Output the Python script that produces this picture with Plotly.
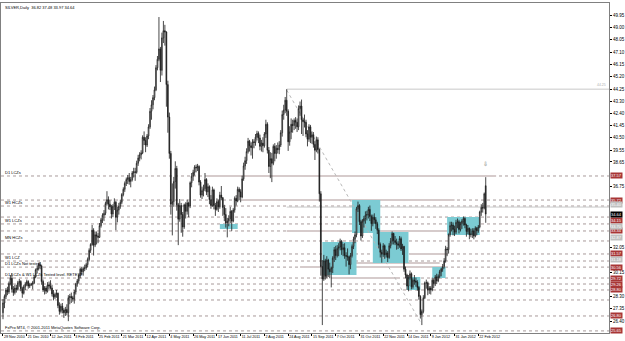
import plotly.graph_objects as go

# ---- daily OHLC, SILVER (29 Nov 2010 .. 29 Feb 2012), one row per week ----
opens = [
    27.05, 27.80, 28.30, 28.80, 28.65,
    29.30, 29.70, 28.85, 28.60, 28.95,
    28.85, 29.35, 29.45, 28.90, 28.55,
    29.05, 29.25, 29.45, 29.10, 29.20,
    29.25, 29.35, 29.80, 30.35, 30.45,
    30.75, 30.65, 29.45, 28.80, 28.95,
    28.70, 29.20, 29.10, 28.95, 28.50,
    28.25, 28.45, 28.55, 27.60, 27.15,
    27.55, 27.25, 27.05, 27.30, 27.05,
    28.20, 28.30, 28.20, 28.10, 28.65,
    29.25, 29.50, 29.90, 30.40, 30.20,
    30.45, 30.50, 30.75, 31.15, 31.85,
    32.30, 33.40, 32.25, 33.05, 32.95,
    32.85, 33.75, 34.20, 34.55, 34.70,
    35.45, 35.75, 35.40, 35.20, 34.65,
    35.25, 35.55, 34.40, 34.95, 35.25,
    35.55, 36.15, 36.55, 37.00, 37.30,
    37.45, 37.15, 37.30, 37.80, 37.90,
    37.85, 38.55, 38.95, 39.20, 39.35,
    40.55, 40.30, 39.95, 40.65, 41.35,
    42.55, 43.05, 43.60, 44.20, 45.90,
    46.55, 47.35, 45.70, 48.20, 48.75,
    48.65, 44.60, 42.10, 39.30, 35.40,
    35.60, 37.15, 38.15, 35.35, 34.25,
    35.30, 34.60, 33.65, 35.35, 34.85,
    35.50, 35.25, 37.05, 37.55, 37.85,
    38.25, 38.20, 38.30, 37.10, 36.10,
    36.45, 36.60, 37.30, 36.35, 36.75,
    35.75, 35.30, 36.50, 35.30, 35.00,
    35.60, 35.20, 36.10, 35.90, 35.15,
    34.60, 33.95, 34.10, 34.30, 34.85,
    34.10, 34.95, 35.85, 35.65, 36.55,
    36.35, 35.95, 37.35, 38.35, 38.75,
    39.45, 40.25, 39.90, 39.75, 40.20,
    40.15, 40.55, 40.85, 40.50, 39.85,
    40.10, 39.90, 40.80, 41.55, 39.55,
    38.30, 38.90, 38.55, 39.85, 39.30,
    39.70, 39.60, 39.95, 40.90, 42.30,
    42.65, 43.40, 42.55, 40.20, 40.95,
    41.55, 41.45, 41.85, 41.70, 41.35,
    42.75, 42.95, 41.90, 41.75, 41.70,
    40.80, 40.40, 41.35, 40.55, 40.75,
    40.00, 39.55, 40.35, 39.60, 36.20,
    30.60, 29.65, 31.05, 29.85, 31.10,
    30.40, 30.20, 30.50, 31.25, 31.90,
    31.45, 32.00, 32.10, 32.55, 31.90,
    32.05, 31.45, 31.40, 31.35, 30.75,
    31.45, 32.15, 32.70, 33.05, 35.05,
    35.30, 34.05, 32.95, 34.10, 34.30,
    34.55, 34.60, 35.00, 34.45, 33.90,
    34.40, 34.20, 33.90, 33.40, 32.30,
    31.70, 31.55, 32.20, 31.50, 31.65,
    31.30, 32.20, 32.55, 33.15, 32.60,
    32.45, 32.35, 32.25, 32.75, 31.95,
    32.15, 30.40, 29.95, 29.10, 29.75,
    30.05, 29.05, 29.55, 29.50, 29.40,
    29.00, 28.30, 26.90, 27.15,
    28.20, 29.35, 29.35, 28.80,
    28.95, 28.80, 29.55, 29.30, 29.80,
    29.50, 29.85, 30.20, 30.40, 30.60,
    31.05, 31.95, 31.90, 33.05, 33.75,
    33.80, 33.45, 33.25, 34.00, 34.05,
    33.45, 33.90, 34.10, 34.30, 33.80,
    33.30, 33.55, 33.05, 33.10, 33.35,
    32.95, 33.55, 33.35, 33.65, 34.80,
    35.15, 35.10, 36.82,
]
highs = [
    28.10, 28.45, 28.95, 29.05, 29.45,
    29.95, 30.10, 29.10, 29.20, 29.20,
    29.50, 29.65, 29.55, 29.05, 29.20,
    29.40, 29.60, 29.55, 29.35, 29.35,
    29.50, 29.95, 30.45, 30.70, 30.90,
    30.95, 30.75, 29.60, 29.10, 29.10,
    29.40, 29.45, 29.55, 29.20, 28.80,
    28.60, 28.80, 28.60, 27.85, 27.75,
    27.80, 27.40, 27.50, 27.70, 28.40,
    28.50, 28.60, 28.35, 28.80, 29.35,
    29.65, 30.00, 30.50, 30.55, 30.60,
    30.75, 30.90, 31.30, 32.00, 32.40,
    33.80, 33.55, 33.30, 33.30, 33.20,
    33.95, 34.35, 34.70, 34.95, 35.60,
    36.40, 36.00, 35.70, 35.35, 35.40,
    35.85, 35.65, 35.20, 35.50, 35.75,
    36.25, 36.70, 37.15, 37.45, 37.65,
    37.80, 37.50, 37.95, 38.20, 38.20,
    38.75, 39.20, 39.40, 39.55, 40.70,
    41.00, 40.55, 40.80, 41.55, 42.80,
    43.40, 43.80, 44.45, 46.10, 46.80,
    49.80, 47.50, 48.60, 49.50, 49.20,
    48.70, 44.90, 42.45, 39.50, 37.00,
    37.50, 38.70, 38.35, 35.50, 35.80,
    35.50, 34.80, 35.45, 35.55, 35.75,
    35.60, 37.15, 37.80, 38.05, 38.40,
    38.45, 38.50, 38.40, 37.25, 36.75,
    36.90, 37.80, 37.40, 37.00, 36.85,
    36.10, 36.75, 36.60, 35.50, 35.85,
    35.75, 36.35, 36.80, 35.95, 35.35,
    35.10, 34.35, 34.55, 35.20, 34.95,
    35.10, 36.00, 36.10, 36.75, 36.70,
    36.55, 37.60, 38.60, 39.05, 39.70,
    40.50, 40.35, 40.15, 40.40, 40.40,
    40.80, 41.05, 41.00, 40.75, 40.35,
    40.55, 40.95, 41.90, 41.70, 39.80,
    39.40, 39.35, 40.00, 40.10, 39.95,
    40.15, 40.25, 41.10, 42.60, 43.05,
    43.65, 44.25, 42.70, 41.40, 42.00,
    41.90, 42.00, 42.10, 42.00, 43.00,
    43.30, 43.45, 42.05, 42.30, 41.90,
    41.10, 41.55, 41.50, 41.00, 40.95,
    40.25, 40.60, 40.55, 39.70, 36.40,
    31.10, 31.50, 31.20, 31.40, 31.20,
    30.90, 30.60, 31.40, 32.10, 32.20,
    32.25, 32.40, 32.75, 32.65, 32.35,
    32.40, 31.70, 32.00, 31.45, 31.65,
    32.30, 32.90, 33.30, 35.20, 35.60,
    35.40, 34.20, 34.25, 34.50, 34.85,
    34.90, 35.20, 35.30, 34.60, 34.60,
    34.70, 34.40, 34.05, 33.55, 32.45,
    31.90, 32.40, 32.30, 31.90, 31.80,
    32.40, 32.80, 33.30, 33.20, 32.95,
    32.75, 32.55, 32.95, 32.90, 32.35,
    32.20, 30.60, 30.05, 29.95, 30.30,
    30.15, 29.70, 29.95, 29.75, 29.55,
    29.10, 28.40, 27.30, 28.40,
    29.45, 29.60, 29.45, 29.10,
    29.10, 29.75, 29.70, 29.95, 30.05,
    30.00, 30.35, 30.50, 30.80, 31.25,
    32.20, 32.10, 33.15, 34.05, 34.05,
    34.00, 33.75, 34.20, 34.30, 34.20,
    34.05, 34.25, 34.45, 34.40, 33.90,
    33.80, 33.60, 33.50, 33.55, 33.55,
    33.70, 33.65, 33.80, 34.90, 35.40,
    35.50, 36.30, 37.48,
]
lows = [
    26.55, 27.40, 28.10, 28.40, 28.50,
    29.15, 28.60, 28.35, 28.45, 28.60,
    28.75, 29.05, 28.70, 28.20, 28.45,
    28.80, 29.10, 28.90, 28.95, 29.10,
    28.85, 29.25, 29.70, 30.10, 30.30,
    30.40, 29.20, 28.65, 28.45, 28.50,
    28.60, 28.85, 28.85, 28.30, 28.00,
    28.10, 28.20, 27.40, 26.90, 27.00,
    27.00, 26.65, 26.80, 26.85, 26.40,
    27.70, 27.80, 27.90, 27.75, 28.45,
    29.05, 29.30, 29.70, 29.95, 29.90,
    30.25, 30.35, 30.55, 31.00, 31.65,
    32.20, 31.45, 32.10, 32.30, 32.40,
    32.80, 33.60, 33.95, 34.10, 34.55,
    35.30, 35.00, 34.95, 34.30, 34.40,
    34.95, 33.40, 34.00, 34.60, 35.05,
    35.40, 36.00, 36.35, 36.80, 36.95,
    36.90, 36.70, 37.15, 37.45, 37.20,
    37.75, 38.35, 38.70, 38.85, 39.25,
    39.95, 39.40, 39.80, 40.40, 41.20,
    41.90, 42.70, 43.40, 44.10, 45.70,
    46.40, 44.80, 45.30, 47.80, 47.60,
    42.90, 40.90, 38.90, 34.60, 33.00,
    35.20, 36.60, 34.90, 32.25, 34.05,
    33.20, 32.90, 33.50, 34.30, 34.60,
    34.40, 35.10, 36.70, 37.20, 37.60,
    37.85, 37.95, 36.85, 35.90, 35.80,
    36.00, 36.40, 36.10, 35.95, 35.40,
    35.05, 35.20, 35.00, 34.50, 34.90,
    34.80, 35.05, 35.70, 34.50, 34.10,
    33.60, 32.85, 33.70, 33.95, 33.35,
    34.00, 34.75, 35.30, 35.55, 35.70,
    35.55, 35.85, 37.20, 38.05, 38.50,
    39.30, 39.45, 39.15, 38.90, 39.70,
    39.90, 40.30, 40.10, 39.55, 39.45,
    39.40, 39.75, 40.50, 39.30, 37.80,
    37.40, 37.10, 38.40, 38.70, 38.90,
    39.30, 39.25, 39.80, 40.60, 41.90,
    42.40, 42.20, 39.50, 39.90, 40.40,
    40.90, 41.10, 41.20, 40.95, 41.10,
    42.20, 40.80, 40.65, 41.30, 40.55,
    39.85, 40.20, 40.10, 40.05, 39.75,
    38.80, 39.40, 39.30, 35.60, 29.90,
    26.10, 29.50, 29.60, 29.70, 29.80,
    29.70, 29.00, 30.10, 30.95, 31.10,
    31.30, 31.40, 31.85, 31.50, 31.40,
    31.20, 30.60, 31.05, 30.00, 30.40,
    31.30, 31.95, 32.40, 32.85, 34.80,
    33.80, 32.60, 32.80, 33.60, 33.90,
    34.15, 34.30, 34.10, 33.35, 33.70,
    33.90, 33.50, 33.10, 32.00, 31.30,
    30.90, 31.35, 31.20, 31.30, 30.95,
    31.20, 32.00, 32.30, 32.30, 32.25,
    31.90, 31.95, 32.05, 31.80, 31.50,
    30.20, 29.70, 28.80, 28.70, 29.60,
    28.85, 28.90, 29.20, 29.05, 28.75,
    28.05, 26.60, 26.10, 27.00,
    28.10, 28.90, 28.40, 28.50,
    28.45, 28.70, 28.95, 29.10, 29.25,
    29.40, 29.70, 29.85, 30.20, 30.45,
    30.90, 31.40, 31.60, 32.90, 33.30,
    33.00, 32.95, 33.10, 33.55, 33.15,
    33.30, 33.50, 33.75, 33.55, 32.90,
    33.10, 32.70, 32.85, 32.80, 32.70,
    32.85, 33.00, 33.20, 33.55, 34.50,
    34.75, 35.00, 33.97,
]
closes = [
    27.80, 28.30, 28.80, 28.65, 29.30,
    29.70, 28.85, 28.60, 28.95, 28.85,
    29.35, 29.45, 28.90, 28.55, 29.05,
    29.25, 29.45, 29.10, 29.20, 29.25,
    29.35, 29.80, 30.35, 30.45, 30.75,
    30.65, 29.45, 28.80, 28.95, 28.70,
    29.20, 29.10, 28.95, 28.50, 28.25,
    28.45, 28.55, 27.60, 27.15, 27.55,
    27.25, 27.05, 27.30, 27.05, 28.20,
    28.30, 28.20, 28.10, 28.65, 29.25,
    29.50, 29.90, 30.40, 30.20, 30.45,
    30.50, 30.75, 31.15, 31.85, 32.30,
    33.40, 32.25, 33.05, 32.95, 32.85,
    33.75, 34.20, 34.55, 34.70, 35.45,
    35.75, 35.40, 35.20, 34.65, 35.25,
    35.55, 34.40, 34.95, 35.25, 35.55,
    36.15, 36.55, 37.00, 37.30, 37.45,
    37.15, 37.30, 37.80, 37.90, 37.85,
    38.55, 38.95, 39.20, 39.35, 40.55,
    40.30, 39.95, 40.65, 41.35, 42.55,
    43.05, 43.60, 44.20, 45.90, 46.55,
    47.35, 45.70, 48.20, 48.75, 48.65,
    44.60, 42.10, 39.30, 35.40, 35.60,
    37.15, 38.15, 35.35, 34.25, 35.30,
    34.60, 33.65, 35.35, 34.85, 35.50,
    35.25, 37.05, 37.55, 37.85, 38.25,
    38.20, 38.30, 37.10, 36.10, 36.45,
    36.60, 37.30, 36.35, 36.75, 35.75,
    35.30, 36.50, 35.30, 35.00, 35.60,
    35.20, 36.10, 35.90, 35.15, 34.60,
    33.95, 34.10, 34.30, 34.85, 34.10,
    34.95, 35.85, 35.65, 36.55, 36.35,
    35.95, 37.35, 38.35, 38.75, 39.45,
    40.25, 39.90, 39.75, 40.20, 40.15,
    40.55, 40.85, 40.50, 39.85, 40.10,
    39.90, 40.80, 41.55, 39.55, 38.30,
    38.90, 38.55, 39.85, 39.30, 39.70,
    39.60, 39.95, 40.90, 42.30, 42.65,
    43.40, 42.55, 40.20, 40.95, 41.55,
    41.45, 41.85, 41.70, 41.35, 42.75,
    42.95, 41.90, 41.75, 41.70, 40.80,
    40.40, 41.35, 40.55, 40.75, 40.00,
    39.55, 40.35, 39.60, 36.20, 30.60,
    29.65, 31.05, 29.85, 31.10, 30.40,
    30.20, 30.50, 31.25, 31.90, 31.45,
    32.00, 32.10, 32.55, 31.90, 32.05,
    31.45, 31.40, 31.35, 30.75, 31.45,
    32.15, 32.70, 33.05, 35.05, 35.30,
    34.05, 32.95, 34.10, 34.30, 34.55,
    34.60, 35.00, 34.45, 33.90, 34.40,
    34.20, 33.90, 33.40, 32.30, 31.70,
    31.55, 32.20, 31.50, 31.65, 31.30,
    32.20, 32.55, 33.15, 32.60, 32.45,
    32.35, 32.25, 32.75, 31.95, 32.15,
    30.40, 29.95, 29.10, 29.75, 30.05,
    29.05, 29.55, 29.50, 29.40, 29.00,
    28.30, 26.90, 27.15, 28.20,
    29.35, 29.35, 28.80, 28.95,
    28.80, 29.55, 29.30, 29.80, 29.50,
    29.85, 30.20, 30.40, 30.60, 31.05,
    31.95, 31.90, 33.05, 33.75, 33.80,
    33.45, 33.25, 34.00, 34.05, 33.45,
    33.90, 34.10, 34.30, 33.80, 33.30,
    33.55, 33.05, 33.10, 33.35, 32.95,
    33.55, 33.35, 33.65, 34.80, 35.15,
    35.10, 36.20, 34.64,
]

date_labels = ["29 Nov 2010", "21 Dec 2010", "12 Jan 2011", "3 Feb 2011", "25 Feb 2011",
               "21 Mar 2011", "12 Apr 2011", "4 May 2011", "26 May 2011", "17 Jun 2011",
               "11 Jul 2011", "2 Aug 2011", "24 Aug 2011", "15 Sep 2011", "7 Oct 2011",
               "31 Oct 2011", "22 Nov 2011", "14 Dec 2011", "9 Jan 2012", "31 Jan 2012",
               "22 Feb 2012"]
date_label_bars = [0, 16, 32, 48, 64, 80, 96, 112, 128, 144, 160, 176, 192, 208, 224,
                   240, 256, 272, 288, 304, 320]

# price scale labels left visible (others are hidden under the line labels)
price_ticks = [50.90, 49.95, 49.00, 48.05, 47.10, 46.15, 45.20, 44.25, 43.30, 42.40,
               41.45, 40.50, 39.55, 38.65, 36.75, 32.05, 30.15, 28.30, 27.35, 26.40]

# horizontal dotted levels (full width)
dotted_levels = [37.57, 35.72, 35.26, 34.41, 33.88, 33.34, 32.57, 31.57, 31.03, 30.56,
                 29.72, 29.26, 28.80, 28.03, 26.80, 25.65]
# grey zone lines: (start bar, end bar, price)
band_start = [138, 162, 191, 274, 237, 200, 222]
band_end = [332, 304, 301, 299, 294, 296, 267]
band_price = [37.57, 35.72, 33.34, 31.57, 30.87, 30.56, 29.72]
# thin solid lines from the August top
solid_start = [191, 191]
solid_price = [44.25, 35.18]
# cyan zones: bar from/to, price low/high
zone_x0 = [146, 215, 235, 249, 272, 289, 299]
zone_x1 = [158, 238, 254, 273, 281, 298, 321]
zone_lo = [33.49, 29.95, 33.19, 30.88, 28.80, 29.72, 33.03]
zone_hi = [33.88, 32.49, 35.72, 33.26, 29.80, 30.57, 34.41]
# trend line
trend_x = [191, 281]
trend_y = [44.18, 26.34]
# level notes on the left
note_text = ["D1 LCZs", "W1 HCZs", "W1 LCZs", "MN HCZs", "W1 LCZ", "D1 LCZs Not tested",
             "D1 LCZs & W1 LCZs Tested level. RETEST"]
note_price = [37.57, 35.26, 33.88, 32.57, 31.03, 30.56, 29.72]
# price labels on the right axis
red_labels = [37.57, 35.72, 34.15, 33.34, 31.57, 30.56, 29.72, 29.26, 28.80, 26.80, 25.65]
grey_labels = [35.40, 33.70, 32.87, 31.18]
bid_price = 34.64
top_line_note = 44.25

bars = list(range(len(closes)))

fig = go.Figure(go.Candlestick(
    x=bars, open=opens, high=highs, low=lows, close=closes,
    increasing=dict(line=dict(color="#1a1a1a", width=0.8), fillcolor="#ffffff"),
    decreasing=dict(line=dict(color="#1a1a1a", width=0.8), fillcolor="#1a1a1a"),
    whiskerwidth=0, hoverinfo="skip",
))

XR = [-1.34, 408.0]
YR = [25.49, 50.88]
dot_col = "#a89a9a"
for p in dotted_levels:
    fig.add_shape(type="line", xref="x", yref="y", x0=XR[0], x1=XR[1], y0=p, y1=p,
                  line=dict(color=dot_col, width=1, dash="dot"), layer="below")
for a, b, p in zip(band_start, band_end, band_price):
    fig.add_shape(type="line", xref="x", yref="y", x0=a, x1=b, y0=p, y1=p,
                  line=dict(color="#d6cbcb", width=2), layer="below")
for a, p in zip(solid_start, solid_price):
    fig.add_shape(type="line", xref="x", yref="y", x0=a, x1=XR[1], y0=p, y1=p,
                  line=dict(color="#c8c8c8", width=1), layer="below")
for a, b, lo, hi in zip(zone_x0, zone_x1, zone_lo, zone_hi):
    fig.add_shape(type="rect", xref="x", yref="y", x0=a, x1=b, y0=lo, y1=hi,
                  fillcolor="#7ccbd3", line=dict(width=0), layer="below")
fig.add_shape(type="line", xref="x", yref="y", x0=trend_x[0], x1=trend_x[1],
              y0=trend_y[0], y1=trend_y[1], line=dict(color="#b8b8b8", width=1, dash="dot"),
              layer="below")

FAM = "Liberation Sans, Arial, sans-serif"
small = dict(family=FAM, size=4, color="#000000")
for t, p in zip(note_text, note_price):
    fig.add_annotation(xref="paper", yref="y", x=0.004, y=p, text=t, showarrow=False,
                       xanchor="left", yanchor="bottom", font=small, yshift=-1)
for p in red_labels:
    fig.add_annotation(xref="paper", yref="y", x=1.0, y=p, text=f"{p:.2f}", showarrow=False,
                       xanchor="left", yanchor="middle", bgcolor="#a83636", xshift=1,
                       font=dict(family=FAM, size=4, color="#ffffff"), borderpad=0)
for p in grey_labels:
    fig.add_annotation(xref="paper", yref="y", x=1.0, y=p, text=f"{p:.2f}", showarrow=False,
                       xanchor="left", yanchor="middle", bgcolor="#c0c0c0", xshift=1,
                       font=dict(family=FAM, size=4, color="#ffffff"), borderpad=0)
fig.add_annotation(xref="paper", yref="y", x=1.0, y=bid_price, text=f"{bid_price:.2f}",
                   showarrow=False, xanchor="left", yanchor="middle", bgcolor="#000000", xshift=1,
                   font=dict(family=FAM, size=4, color="#ffffff"), borderpad=0)
fig.add_annotation(xref="paper", yref="y", x=0.998, y=top_line_note, text=f"{top_line_note:.2f}",
                   showarrow=False, xanchor="right", yanchor="bottom",
                   font=dict(family=FAM, size=3.5, color="#b0b0b0"))
fig.add_annotation(xref="paper", yref="paper", x=0.004, y=0.999,
                   text="SILVER,Daily  36.82 37.48 33.97 34.64", showarrow=False,
                   xanchor="left", yanchor="top", font=small)
fig.add_annotation(xref="paper", yref="paper", x=0.004, y=0.004,
                   text="FxPro MT4, © 2001-2011 MetaQuotes Software Corp.", showarrow=False,
                   xanchor="left", yanchor="bottom", font=small)
fig.add_annotation(xref="x", yref="y", x=325, y=38.5, text="⇩", showarrow=False,
                   font=dict(size=6, color="#707070"))

fig.update_layout(
    width=625, height=341, margin=dict(l=0, r=15, t=3, b=8),
    paper_bgcolor="#ffffff", plot_bgcolor="#ffffff", showlegend=False,
    xaxis=dict(range=XR, rangeslider=dict(visible=False), showgrid=False, zeroline=False,
               tickvals=date_label_bars, ticktext=date_labels, ticks="outside", ticklen=2,
               tickcolor="#000000", ticklabelposition="outside right", tickangle=0,
               tickfont=dict(family=FAM, size=3.7, color="#000000"),
               showline=True, linecolor="#808080", mirror=True),
    yaxis=dict(range=YR, side="right", showgrid=False, zeroline=False,
               tickvals=price_ticks, tickformat=".2f", ticks="outside", ticklen=2,
               tickcolor="#000000",
               tickfont=dict(family=FAM, size=4.5, color="#000000"),
               showline=True, linecolor="#808080", mirror=True),
)

fig.write_html("out.html")
